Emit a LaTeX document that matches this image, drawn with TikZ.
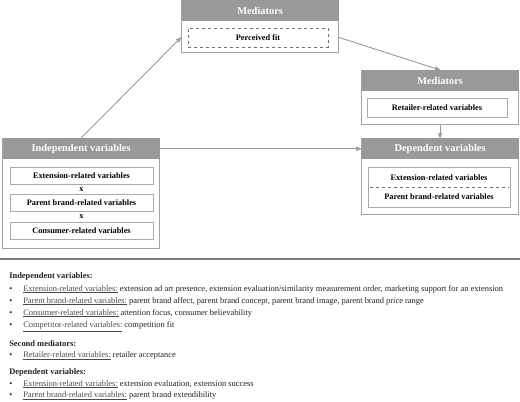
\documentclass[tikz,border=0pt]{standalone}
\usepackage{fontspec}
\setmainfont{Liberation Serif}
\usetikzlibrary{arrows,positioning}
\definecolor{framegray}{HTML}{A3A3A3}
\definecolor{headgray}{HTML}{999999}
\definecolor{itemgray}{HTML}{ABABAB}
\definecolor{dashgray}{HTML}{707070}
\definecolor{rulegray}{HTML}{7A7A7A}
\definecolor{textgray}{HTML}{222222}
\definecolor{labelgray}{HTML}{4A4A4A}

\begin{document}
\begin{tikzpicture}[->,>=stealth',x=1pt,y=-1pt,semithick]
	\tikzset{panel/.style={draw=framegray,line width=1.2pt,fill=white,minimum width=157pt,anchor=north west,inner sep=0pt},
		head/.style={fill=headgray,text=white,font=\fontsize{10.4}{12}\selectfont\bfseries,minimum width=157pt,minimum height=21pt,anchor=north,inner sep=0pt},
		item/.style={draw=itemgray,line width=0.8pt,fill=white,font=\fontsize{8.3}{10}\selectfont\bfseries,inner sep=0pt,minimum height=17pt},
		times/.style={font=\fontsize{8.3}{10}\selectfont\bfseries,inner sep=0pt},
		arrowline/.style={draw=headgray,line width=0.9pt},
		note/.style={anchor=base west,font=\fontsize{8.45}{10}\selectfont,inner sep=0pt,text=textgray}}
	\useasboundingbox (0,0) rectangle (520,402);

	% mediators, top
	\node[panel,minimum height=52pt] (med1) at (181,0) {};
	\node[head] (med1h) at (med1.north) {Mediators};
	\node[item,dashed,draw=dashgray,minimum width=140pt,minimum height=19pt] (fit) at (258,37.5) {Perceived fit};

	% mediators, right
	\node[panel,minimum height=54pt] (med2) at (361,70) {};
	\node[head] (med2h) at (med2.north) {Mediators};
	\node[item,minimum width=140pt,minimum height=19pt] (retail) at (437,107.5) {Retailer-related variables};

	% independent variables
	\node[panel,minimum height=110pt] (indep) at (2,138) {};
	\node[head] (indeph) at (indep.north) {Independent variables};
	\node[item,minimum width=143pt] (ext) at (81.5,175.5) {Extension-related variables};
	\node[times] (x1) [below=2.5pt of ext] {x};
	\node[item,minimum width=143pt] (parent) at (81.5,202.5) {Parent brand-related variables};
	\node[times] (x2) [below=2.5pt of parent] {x};
	\node[item,minimum width=143pt] (cons) at (81.5,230.5) {Consumer-related variables};

	% dependent variables
	\node[panel,minimum height=76pt] (dep) at (361,138) {};
	\node[head] (deph) at (dep.north) {Dependent variables};
	\node[item,minimum width=142pt,minimum height=40pt] (depbox) at (439,187) {};
	\node[times] (dep1) at (439,177.5) {Extension-related variables};
	\node[times] (dep2) at (439,197) {Parent brand-related variables};
	\draw[-,dashed,draw=dashgray,line width=0.5pt] ([xshift=2pt]depbox.west) -- ([xshift=-2pt]depbox.east);

	\draw[arrowline] (indeph.north) -- (med1.west |- fit.center);
	\draw[arrowline] (med1.east |- fit.center) -- (med2h.north);
	\draw[arrowline] (med2.south) -- (deph.north);
	\draw[arrowline] (indeph.east) -- (deph.west);

	\draw[-,draw=rulegray,line width=1.4pt] (0,259) -- (520,259);

	% legend
	\node[note] (ivt) at (9,278) {\bfseries Independent variables:};
	\node[note] (iv1) at (9,291) {\makebox[14pt][l]{\textbullet}{\color{labelgray}\underline{Extension-related variables:}} extension ad art presence, extension evaluation/similarity measurement order, marketing support for an extension};
	\node[note] (iv2) at (9,303) {\makebox[14pt][l]{\textbullet}{\color{labelgray}\underline{Parent brand-related variables:}} parent brand affect, parent brand concept, parent brand image, parent brand price range};
	\node[note] (iv3) at (9,315) {\makebox[14pt][l]{\textbullet}{\color{labelgray}\underline{Consumer-related variables:}} attention focus, consumer believability};
	\node[note] (iv4) at (9,327.5) {\makebox[14pt][l]{\textbullet}{\color{labelgray}\underline{Competitor-related variables:}} competition fit};
	\node[note] (smt) at (9,346) {\bfseries Second mediators:};
	\node[note] (sm1) at (9,357.5) {\makebox[14pt][l]{\textbullet}{\color{labelgray}\underline{Retailer-related variables:}} retailer acceptance};
	\node[note] (dvt) at (9,374) {\bfseries Dependent variables:};
	\node[note] (dv1) at (9,386) {\makebox[14pt][l]{\textbullet}{\color{labelgray}\underline{Extension-related variables:}} extension evaluation, extension success};
	\node[note] (dv2) at (9,397.5) {\makebox[14pt][l]{\textbullet}{\color{labelgray}\underline{Parent brand-related variables:}} parent brand extendibility};
\end{tikzpicture}
\end{document}
